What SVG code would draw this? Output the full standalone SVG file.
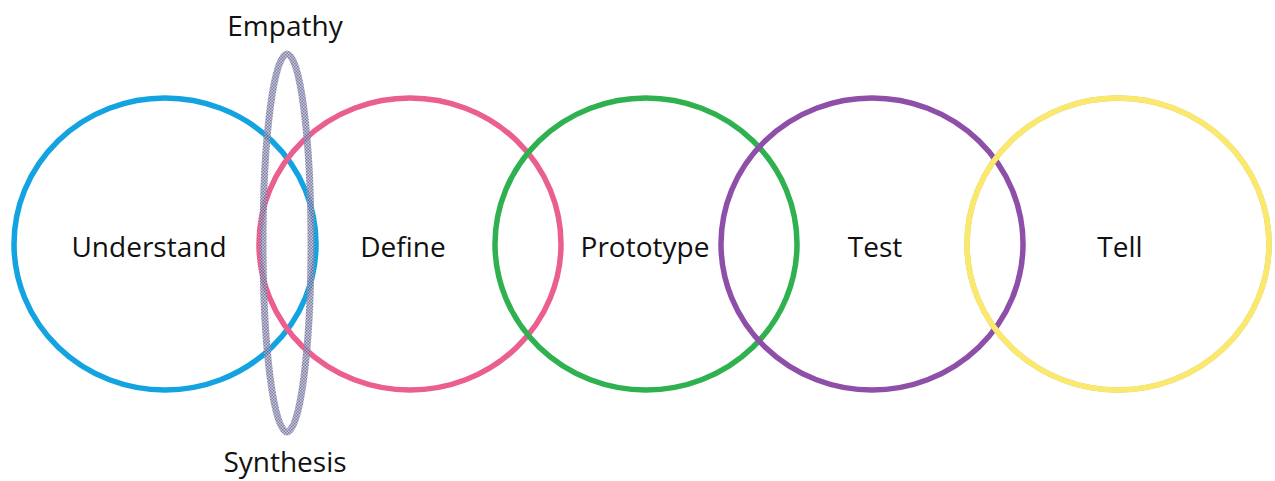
<svg xmlns="http://www.w3.org/2000/svg" width="1275" height="481" viewBox="0 0 1275 481">
  <style>
    .ring { fill: none; stroke-width: 5.5; }
    .label { font-family: "Open Sans", "Noto Sans", sans-serif; font-size: 28px; fill: #111111; text-anchor: middle; }
  </style>
  <defs>
    <pattern id="weave" width="3" height="3" patternUnits="userSpaceOnUse">
      <rect width="3" height="3" fill="#b9b9d2"/>
      <rect width="1.5" height="1.5" fill="#5f5f8c"/>
      <rect x="1.5" y="1.5" width="1.5" height="1.5" fill="#5f5f8c"/>
    </pattern>
  </defs>
  <rect width="1275" height="481" fill="#ffffff"/>

  <g id="understand">
    <ellipse class="ring" cx="165" cy="244" rx="151" ry="146" stroke="#13a3e0"/>
    <text class="label" x="149" y="257">Understand</text>
  </g>
  <g id="define">
    <ellipse class="ring" cx="410" cy="244" rx="151" ry="146" stroke="#ea5f90"/>
    <text class="label" x="403" y="257">Define</text>
  </g>
  <g id="prototype">
    <ellipse class="ring" cx="646" cy="244" rx="151" ry="146" stroke="#2fb14f"/>
    <text class="label" x="645" y="257">Prototype</text>
  </g>
  <g id="test">
    <ellipse class="ring" cx="872" cy="244" rx="151" ry="146" stroke="#8e4fa8"/>
    <text class="label" x="875" y="257">Test</text>
  </g>
  <g id="tell">
    <ellipse class="ring" cx="1118" cy="244" rx="151" ry="146" stroke="#c9c08a" stroke-width="7"/>
    <ellipse class="ring" cx="1118" cy="244" rx="151" ry="146" stroke="#fbe96d" stroke-width="5.5"/>
    <text class="label" x="1120" y="257">Tell</text>
  </g>

  <g id="empathy-synthesis">
    <ellipse cx="287" cy="243" rx="24" ry="189" fill="none" stroke="url(#weave)" stroke-width="7" opacity="0.8"/>
    <text class="label" x="285" y="36">Empathy</text>
    <text class="label" x="285" y="472">Synthesis</text>
  </g>
</svg>
